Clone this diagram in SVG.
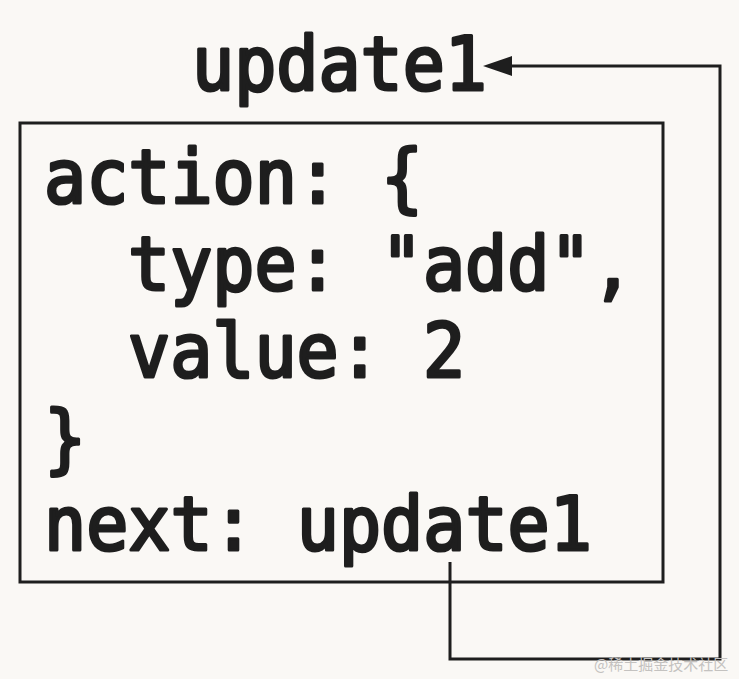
<svg xmlns="http://www.w3.org/2000/svg" width="739" height="679" viewBox="0 0 739 679">
<defs>
<style>
.code{font-family:"DejaVu Sans Mono","Liberation Mono",monospace;font-weight:normal;font-size:70px;fill:#1e1e1e;stroke:#1e1e1e;stroke-width:3px;stroke-linejoin:round;}
.ln{fill:none;stroke:#1e1e1e;stroke-width:3;}
.wm{font-family:"Noto Sans CJK SC","DejaVu Sans",sans-serif;font-size:15px;fill:#c4c2c0;}
</style>
</defs>
<rect width="739" height="679" fill="#faf8f5"/>
<g id="label-top">
<text class="code" transform="translate(192,90) scale(1,1.07)">update1</text>
</g>
<g id="node-box">
<rect class="ln" x="20" y="123" width="643" height="459"/>
<text class="code" transform="translate(44,203) scale(1,1.07)">action: {</text>
<text class="code" transform="translate(128,290) scale(1,1.07)">type: "add",</text>
<text class="code" transform="translate(128,377) scale(1,1.07)">value: 2</text>
<text class="code" transform="translate(44,464) scale(1,1.07)">}</text>
<text class="code" transform="translate(44,550) scale(1,1.07)">next: update1</text>
</g>
<g id="connectors">
<path class="ln" d="M450,562 V659 H720 V66 H510"/>
<path d="M483,66 L512,56 L512,76 Z" fill="#1e1e1e"/>
</g>
<text class="wm" x="594" y="670">@稀土掘金技术社区</text>
</svg>
